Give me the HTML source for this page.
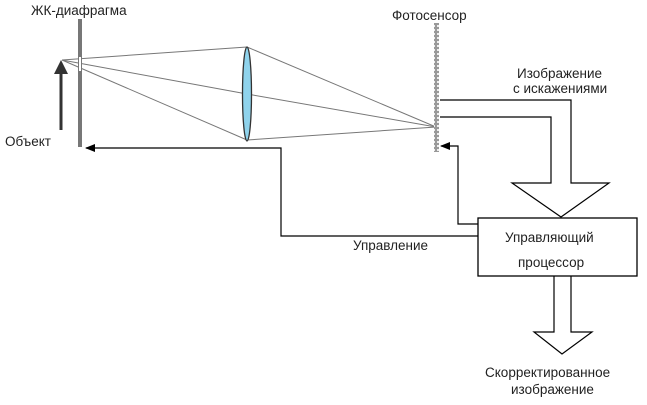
<!DOCTYPE html>
<html><head><meta charset="utf-8"><style>
body{margin:0;background:#fff}
svg{display:block}
text{font-family:"Liberation Sans","DejaVu Sans",sans-serif;font-size:13.5px;fill:#222}
</style></head><body>
<svg width="647" height="405" viewBox="0 0 647 405">
<defs>
<marker id="ah" markerWidth="10" markerHeight="8" refX="9" refY="4" orient="auto" markerUnits="userSpaceOnUse">
<path d="M0,0 L10,4 L0,8 Z" fill="#000"/></marker>
<pattern id="dots" width="4" height="4" patternUnits="userSpaceOnUse">
<rect width="4" height="4" fill="#999"/><rect x="1" y="1" width="2" height="2" fill="#eee"/></pattern>
</defs>
<!-- rays -->
<g stroke="#777" stroke-width="1" fill="none">
<line x1="62" y1="60" x2="247" y2="47"/>
<line x1="62" y1="60" x2="247" y2="94"/>
<line x1="62" y1="60" x2="247" y2="140"/>
<line x1="247" y1="47" x2="436" y2="127"/>
<line x1="247" y1="94" x2="436" y2="127"/>
<line x1="247" y1="140" x2="436" y2="127"/>
</g>
<!-- diaphragm -->
<rect x="78" y="19" width="4" height="128" fill="#777"/>
<rect x="79" y="57" width="2" height="14" fill="#fff"/>
<!-- object arrow -->
<line x1="61" y1="130" x2="61" y2="72" stroke="#333" stroke-width="3"/>
<path d="M54,74 L61,60 L68,74 Z" fill="#333"/>
<!-- lens -->
<ellipse cx="247" cy="94" rx="4.5" ry="47" fill="#8fd3ec" stroke="#333" stroke-width="1.3"/>
<!-- sensor -->
<rect x="434" y="23" width="5" height="129" fill="url(#dots)"/>
<!-- big arrow down -->
<path d="M440,100 L571,100 L571,183 L609,183 L561,217 L512,183 L551,183 L551,117 L440,117" fill="none" stroke="#000" stroke-width="1.2"/>
<!-- box -->
<rect x="478" y="218" width="159" height="58" fill="#fff" stroke="#000" stroke-width="1.3"/>
<!-- lower arrow -->
<path d="M554,276 L554,332 L534,332 L562,354 L592,332 L571,332 L571,276" fill="none" stroke="#000" stroke-width="1.2"/>
<!-- control line -->
<polyline points="478,236 281,236 281,148 86,148" fill="none" stroke="#000" stroke-width="1.2" marker-end="url(#ah)"/>
<polyline points="478,224 458,224 458,146 441,146" fill="none" stroke="#000" stroke-width="1.2" marker-end="url(#ah)"/>
<!-- text -->
<text x="31" y="15">ЖК-диафрагма</text>
<text x="392" y="20">Фотосенсор</text>
<text x="5" y="146">Объект</text>
<text x="517" y="78">Изображение</text>
<text x="513" y="93">с искажениями</text>
<text x="353" y="250">Управление</text>
<text x="505" y="242">Управляющий</text>
<text x="518" y="267">процессор</text>
<text x="485" y="377">Скорректированное</text>
<text x="511" y="394">изображение</text>
</svg>
</body></html>
